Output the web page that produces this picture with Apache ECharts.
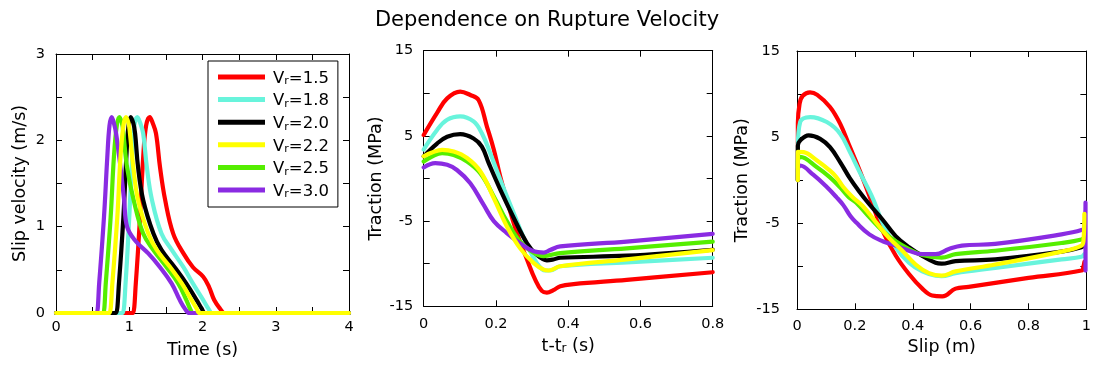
<!DOCTYPE html>
<html>
<head>
<meta charset="utf-8">
<script src="https://cdn.jsdelivr.net/npm/echarts@6/dist/echarts.min.js"></script>
<style>
html,body{margin:0;padding:0;background:#fff;}
#main{width:1094px;height:369px;}
</style>
</head>
<body>
<div id="main"></div>
<script>
// ---------- data ----------
const seriesNames = ['Vr=1.5', 'Vr=1.8', 'Vr=2.0', 'Vr=2.2', 'Vr=2.5', 'Vr=3.0'];
const seriesColors = ['#ff0000', '#68f4dc', '#000000', '#ffff00', '#55ee00', '#8a2be2'];

// Panel 1: slip velocity (m/s) vs time (s)
const vel15 = [[0,0],[1.03,0],[1.05,0],[1.09,0.35],[1.147,1.11],[1.19,1.8],[1.23,2.17],[1.28,2.27],[1.32,2.2],[1.365,2.08],[1.42,1.69],[1.49,1.31],[1.60,0.92],[1.74,0.69],[1.87,0.53],[2.01,0.42],[2.09,0.30],[2.16,0.15],[2.24,0.05],[2.3,0],[2.33,0],[4,0]];
const vel18 = [[0,0],[0.89,0],[0.91,0],[0.95,0.35],[1.0,1.11],[1.04,1.8],[1.07,2.17],[1.11,2.27],[1.15,2.2],[1.19,2.08],[1.24,1.69],[1.31,1.31],[1.44,0.92],[1.58,0.73],[1.74,0.53],[1.87,0.34],[2.01,0.15],[2.08,0.05],[2.13,0],[2.16,0],[4,0]];
const vel20 = [[0,0],[0.80,0],[0.82,0],[0.86,0.35],[0.92,1.11],[0.96,1.8],[0.99,2.17],[1.02,2.27],[1.055,2.2],[1.08,2.08],[1.12,1.69],[1.19,1.31],[1.33,0.92],[1.44,0.73],[1.62,0.53],[1.78,0.34],[1.92,0.15],[1.99,0.05],[2.03,0],[2.06,0],[4,0]];
const vel22 = [[0,0],[0.71,0],[0.73,0],[0.77,0.35],[0.837,1.11],[0.88,1.8],[0.92,2.17],[0.955,2.27],[0.99,2.2],[1.01,2.08],[1.055,1.69],[1.12,1.31],[1.26,0.92],[1.375,0.73],[1.56,0.53],[1.72,0.34],[1.85,0.15],[1.92,0.05],[1.96,0],[1.99,0],[4,0]];
const vel25 = [[0,0],[0.625,0],[0.645,0],[0.68,0.35],[0.746,1.11],[0.79,1.8],[0.83,2.17],[0.865,2.27],[0.9,2.2],[0.92,2.08],[0.97,1.69],[1.06,1.31],[1.19,0.92],[1.33,0.73],[1.51,0.53],[1.67,0.34],[1.78,0.15],[1.83,0.05],[1.87,0],[1.9,0],[4,0]];
const vel30 = [[0,0],[0.535,0],[0.555,0],[0.59,0.35],[0.655,1.11],[0.70,1.8],[0.73,2.17],[0.76,2.27],[0.79,2.2],[0.82,2.08],[0.88,1.69],[0.93,1.31],[0.97,1.0],[1.08,0.84],[1.26,0.69],[1.42,0.53],[1.58,0.34],[1.69,0.15],[1.76,0.05],[1.82,0],[1.85,0],[4,0]];

// Panel 2: traction (MPa) vs t - t_r (s)
const trT15 = [[0,5.1],[0.037,7.7],[0.065,9.4],[0.101,10.2],[0.129,9.8],[0.152,9.2],[0.175,6.1],[0.194,3.4],[0.212,0.2],[0.23,-2.5],[0.258,-6.4],[0.286,-9.5],[0.309,-11.9],[0.327,-13.2],[0.341,-13.4],[0.359,-13.1],[0.378,-12.65],[0.415,-12.4],[0.562,-11.9],[0.8,-11.0]];
const trT18 = [[0,3.4],[0.037,5.7],[0.065,6.9],[0.101,7.3],[0.138,6.7],[0.161,5.3],[0.184,3.0],[0.212,-0.16],[0.249,-4.06],[0.286,-7.8],[0.313,-9.9],[0.336,-10.8],[0.35,-10.8],[0.378,-10.3],[0.562,-9.84],[0.8,-9.3]];
const trT20 = [[0,2.6],[0.037,4.1],[0.065,4.9],[0.101,5.2],[0.138,4.7],[0.161,3.75],[0.18,1.8],[0.212,-1.3],[0.249,-4.6],[0.286,-7.6],[0.313,-8.95],[0.341,-9.6],[0.359,-9.5],[0.378,-9.3],[0.562,-9.06],[0.8,-8.36]];
const trT22 = [[0,2.6],[0.023,3.05],[0.051,3.36],[0.083,3.16],[0.12,2.4],[0.157,0.82],[0.194,-2.3],[0.23,-5.6],[0.267,-8.2],[0.304,-9.9],[0.332,-10.7],[0.346,-10.8],[0.378,-10.3],[0.562,-9.5],[0.8,-8.4]];
const trT25 = [[0,2.0],[0.023,2.58],[0.051,2.97],[0.083,2.77],[0.12,2.0],[0.157,0.6],[0.194,-2.1],[0.23,-5.0],[0.267,-7.4],[0.304,-8.7],[0.332,-9.1],[0.378,-8.75],[0.562,-8.2],[0.8,-7.4]];
const trT30 = [[0,1.3],[0.032,1.8],[0.065,1.6],[0.092,1.0],[0.129,-0.55],[0.166,-3.1],[0.194,-5.0],[0.23,-6.4],[0.267,-7.6],[0.304,-8.55],[0.332,-8.7],[0.35,-8.4],[0.378,-7.97],[0.562,-7.4],[0.8,-6.5]];

// Panel 3: traction (MPa) vs slip (m)
const trS15 = [[0.003,0],[0.003,6.6],[0.009,8.9],[0.02,9.8],[0.045,10.2],[0.07,9.9],[0.114,8.5],[0.149,6.56],[0.183,3.83],[0.217,1.1],[0.252,-2.0],[0.296,-5.9],[0.341,-8.75],[0.387,-10.9],[0.433,-12.6],[0.467,-13.4],[0.502,-13.5],[0.548,-12.6],[0.593,-12.4],[0.8,-11.35],[0.983,-10.5],[0.99,-10.0],[0.993,-9.5]];
const trS18 = [[0.003,0],[0.003,3.8],[0.011,6.75],[0.046,7.33],[0.103,6.75],[0.149,5.4],[0.183,3.25],[0.217,0.9],[0.263,-2.2],[0.296,-5.0],[0.341,-7.8],[0.387,-9.6],[0.433,-10.6],[0.479,-11.1],[0.5,-11.15],[0.548,-10.8],[0.685,-10.2],[0.914,-9.2],[0.983,-8.9],[0.993,-8.6]];
const trS20 = [[0.003,0],[0.003,4.0],[0.011,4.6],[0.04,5.2],[0.08,4.8],[0.114,3.83],[0.149,2.1],[0.183,0.2],[0.217,-1.4],[0.25,-2.8],[0.296,-4.6],[0.341,-6.5],[0.387,-7.8],[0.433,-8.8],[0.479,-9.6],[0.5,-9.7],[0.548,-9.4],[0.685,-9.2],[0.914,-8.3],[0.983,-7.8],[0.993,-7.5]];
const trS22 = [[0.003,0],[0.003,3.3],[0.023,3.25],[0.069,2.28],[0.114,1.1],[0.135,0.4],[0.16,-0.8],[0.19,-1.9],[0.227,-3.0],[0.273,-4.9],[0.318,-6.7],[0.364,-8.2],[0.41,-9.8],[0.456,-10.8],[0.5,-11.1],[0.548,-10.6],[0.685,-9.8],[0.914,-8.3],[0.983,-7.6],[0.99,-7.0],[0.993,-3.9]];
const trS25 = [[0.003,0],[0.003,2.2],[0.011,2.7],[0.069,1.5],[0.114,0.33],[0.149,-0.83],[0.18,-2.0],[0.204,-2.6],[0.25,-4.3],[0.296,-5.9],[0.341,-7.1],[0.387,-8.0],[0.433,-8.7],[0.5,-9.0],[0.548,-8.6],[0.685,-8.2],[0.914,-7.3],[0.983,-6.9],[0.993,-6.6]];
const trS30 = [[0.003,0],[0.003,1.2],[0.011,1.7],[0.057,0.6],[0.103,-0.8],[0.137,-2.0],[0.16,-2.9],[0.185,-4.2],[0.204,-4.9],[0.25,-6.3],[0.296,-7.1],[0.341,-7.6],[0.387,-8.2],[0.433,-8.6],[0.479,-8.6],[0.525,-8.0],[0.57,-7.6],[0.685,-7.4],[0.914,-6.3],[0.983,-5.8],[0.993,-5.5],[0.997,-2.6],[0.997,-10.5]];

const panel1 = [vel15, vel18, vel20, vel22, vel25, vel30];
const panel2 = [trT15, trT18, trT20, trT22, trT25, trT30];
const panel3 = [trS15, trS18, trS20, trS22, trS25, trS30];

// ---------- chart ----------
const FONT = 'DejaVu Sans';
const chart = echarts.init(document.getElementById('main'), null, {renderer: 'canvas'});

const grids = [
  {left: 56, top: 54, width: 293, height: 259},
  {left: 423.7, top: 50.7, width: 289, height: 255.6},
  {left: 797, top: 51, width: 292, height: 258.3}
];

const tickStyle = {show: true, inside: true, length: 6, lineStyle: {color: '#000', width: 1}};
const lineStyleAx = {show: true, onZero: false, lineStyle: {color: '#000', width: 1}};
const labelBase = {color: '#000', fontFamily: FONT, fontSize: 14.5};
const nameBase = {color: '#000', fontFamily: FONT, fontSize: 17.5};
const subRich = {
  n: {fontFamily: FONT, fontSize: 17.5, color: '#000', lineHeight: 22, verticalAlign: 'bottom'},
  s: {fontFamily: FONT, fontSize: 12, color: '#000', lineHeight: 12, verticalAlign: 'bottom'}
};

function fmtHalf(v) { return Number.isInteger(v) ? String(v) : ''; }
function fmtTrac(v) { return ((v + 15) % 10 === 0) ? String(v) : ''; }
function fmtDec(v) { return String(Math.round(v * 10) / 10); }

const xAxes = [
  {gridIndex: 0, type: 'value', min: 0, max: 4, interval: 0.5, name: 'Time (s)', nameLocation: 'middle', nameGap: 28,
   nameTextStyle: nameBase, axisLabel: Object.assign({formatter: fmtHalf, margin: 7}, labelBase)},
  {gridIndex: 1, type: 'value', min: 0, max: 0.8, interval: 0.2, name: '{n|t-t}{s|r}{n| (s)}', nameLocation: 'middle', nameGap: 27,
   nameTextStyle: {rich: subRich}, axisLabel: Object.assign({formatter: fmtDec, margin: 10}, labelBase)},
  {gridIndex: 2, type: 'value', min: 0, max: 1, interval: 0.2, name: 'Slip (m)', nameLocation: 'middle', nameGap: 29,
   nameTextStyle: nameBase, axisLabel: Object.assign({formatter: fmtDec, margin: 9}, labelBase)}
];
const yAxes = [
  {gridIndex: 0, type: 'value', min: 0, max: 3, interval: 0.5, name: 'Slip velocity (m/s)', nameLocation: 'middle', nameGap: 27,
   nameTextStyle: nameBase, axisLabel: Object.assign({formatter: fmtHalf, margin: 11}, labelBase)},
  {gridIndex: 1, type: 'value', min: -15, max: 15, interval: 5, name: 'Traction (MPa)', nameLocation: 'middle', nameGap: 38,
   nameTextStyle: nameBase, axisLabel: Object.assign({formatter: fmtTrac, margin: 10.5}, labelBase)},
  {gridIndex: 2, type: 'value', min: -15, max: 15, interval: 5, name: 'Traction (MPa)', nameLocation: 'middle', nameGap: 46,
   nameTextStyle: nameBase, axisLabel: Object.assign({formatter: fmtTrac, margin: 17}, labelBase)}
];
xAxes.forEach(a => { a.axisTick = tickStyle; a.axisLine = lineStyleAx; a.splitLine = {show: false}; a.position = 'bottom'; });
yAxes.forEach(a => { a.axisTick = tickStyle; a.axisLine = lineStyleAx; a.splitLine = {show: false}; a.position = 'left'; });
// mirrored top / right axes
for (let i = 0; i < 3; i++) {
  xAxes.push({gridIndex: i, type: 'value', position: 'top', min: xAxes[i].min, max: xAxes[i].max, interval: xAxes[i].interval,
    axisLabel: {show: false}, axisTick: tickStyle, axisLine: lineStyleAx, splitLine: {show: false}});
}
for (let i = 0; i < 3; i++) {
  yAxes.push({gridIndex: i, type: 'value', position: 'right', min: yAxes[i].min, max: yAxes[i].max, interval: yAxes[i].interval,
    axisLabel: {show: false}, axisTick: tickStyle, axisLine: lineStyleAx, splitLine: {show: false}});
}

const drawOrder = [0, 1, 2, 4, 5, 3]; // yellow drawn last
const series = [];
[panel1, panel2, panel3].forEach((panel, p) => {
  drawOrder.forEach((k, j) => {
    series.push({
      type: 'line', name: seriesNames[k], data: panel[k], xAxisIndex: p, yAxisIndex: p,
      showSymbol: false, symbol: 'none', smooth: 0.4, clip: false,
      z: 2 + j,
      lineStyle: {color: seriesColors[k], width: 4.2, cap: 'round', join: 'round'},
      itemStyle: {color: seriesColors[k]}
    });
  });
});

const option = {
  animation: false,
  backgroundColor: '#fff',
  title: {
    text: 'Dependence on Rupture Velocity', left: 'center', top: 5,
    textStyle: {fontFamily: FONT, fontSize: 21, fontWeight: 'normal', color: '#000'}
  },
  legend: {
    data: seriesNames, orient: 'vertical', left: 208, top: 61,
    padding: [9, 9, 7, 10], itemGap: 5.6, itemWidth: 47, itemHeight: 5, icon: 'rect',
    backgroundColor: '#fff', borderColor: '#000', borderWidth: 1, borderRadius: 0,
    selectedMode: false,
    formatter: function (name) { return '{a|V}{s|r}{a|' + name.slice(2) + '}'; },
    textStyle: {
      padding: [0, 0, 0, 3],
      rich: {
        a: {fontFamily: FONT, fontSize: 16.5, color: '#000', lineHeight: 20, verticalAlign: 'bottom'},
        s: {fontFamily: FONT, fontSize: 11, color: '#000', lineHeight: 11, verticalAlign: 'bottom'}
      }
    }
  },
  grid: grids,
  xAxis: xAxes,
  yAxis: yAxes,
  series: series
};
chart.setOption(option);
</script>
</body>
</html>
